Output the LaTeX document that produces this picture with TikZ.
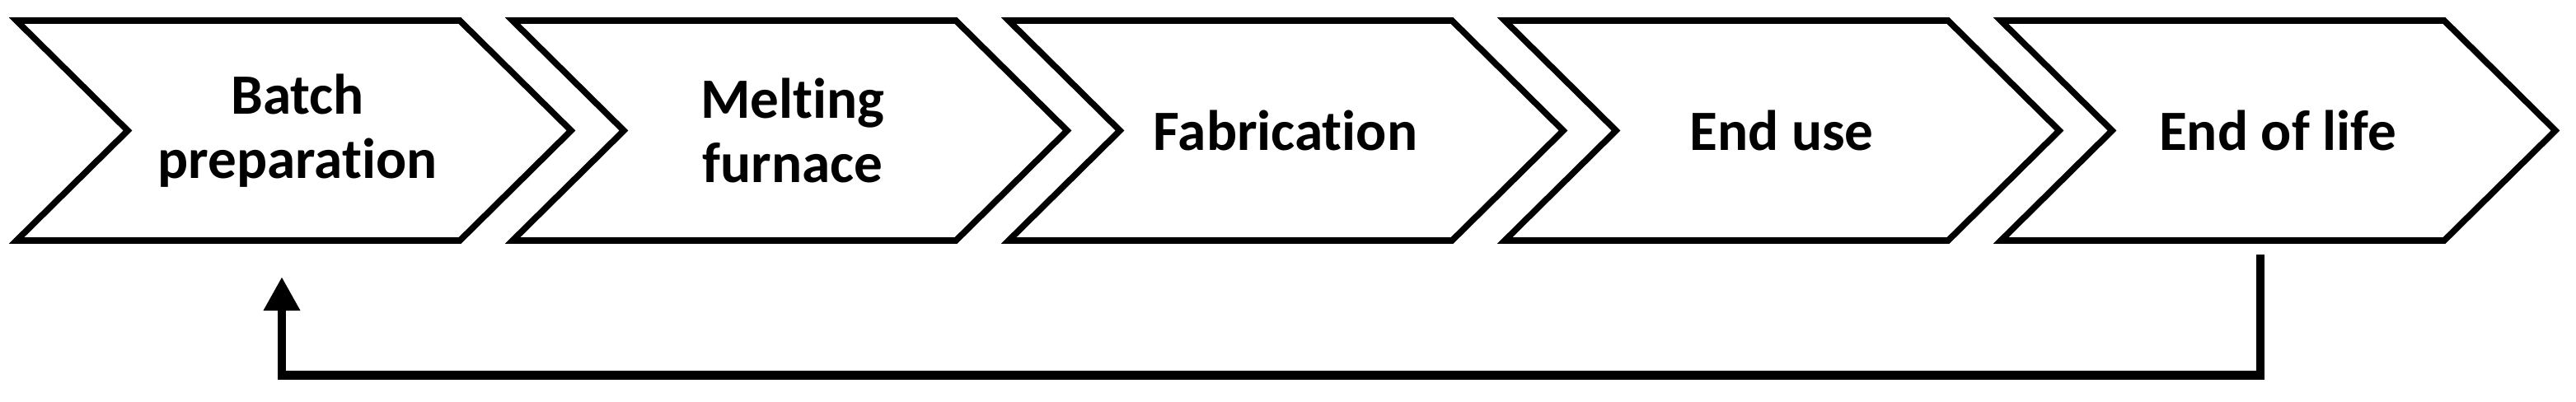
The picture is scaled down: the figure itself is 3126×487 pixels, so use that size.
\documentclass[tikz,border=0pt]{standalone}
\usepackage{fontspec}
\setmainfont{Carlito}[Ligatures={NoCommon,NoRequired,NoContextual}]
\usetikzlibrary{arrows.meta}
\tikzset{
  chev/.style={draw=black, line width=1.9pt, line join=miter, fill=white},
  lbl/.style={font=\bfseries\fontsize{17.3}{19.5}\selectfont, align=center, inner sep=0pt},
  loopline/.style={draw=black, line width=2.7pt, line join=miter, line cap=butt,
    -{Triangle[width=10.5pt,length=10.3pt]}}
}
\newcommand{\chevpath}[1]{%
  \path[chev] (#1,25) -- ++(538,0) -- ++(135,133.5) -- ++(-135,133.5) -- ++(-538,0) -- ++(135,-133.5) -- cycle;}
\begin{document}
\begin{tikzpicture}[x=0.25pt,y=-0.25pt]
\fill[white] (0,0) rectangle (3126,487);
\useasboundingbox (0,0) rectangle (3126,487);
\chevpath{20}
\chevpath{622}
\chevpath{1224}
\chevpath{1826}
\chevpath{2428}
\node[lbl] (c1) at (361,158.5) {Batch\\preparation};
\node[lbl] (c2) at (962,158.5) {Melting\\furnace};
\node[lbl] (c3) at (1560,158.5) {Fabrication};
\node[lbl] (c4) at (2162,158.5) {End use};
\node[lbl] (c5) at (2764,158.5) {End of life};
\coordinate (s) at (c5.center |- 0,309);
\coordinate (src) at ([xshift=-5.25pt]s);
\coordinate (t) at ([xshift=-4.75pt]c1.center |- 0,336);
\draw[loopline] (src) -- ++(0,146.5) -| (t);
\end{tikzpicture}
\end{document}
